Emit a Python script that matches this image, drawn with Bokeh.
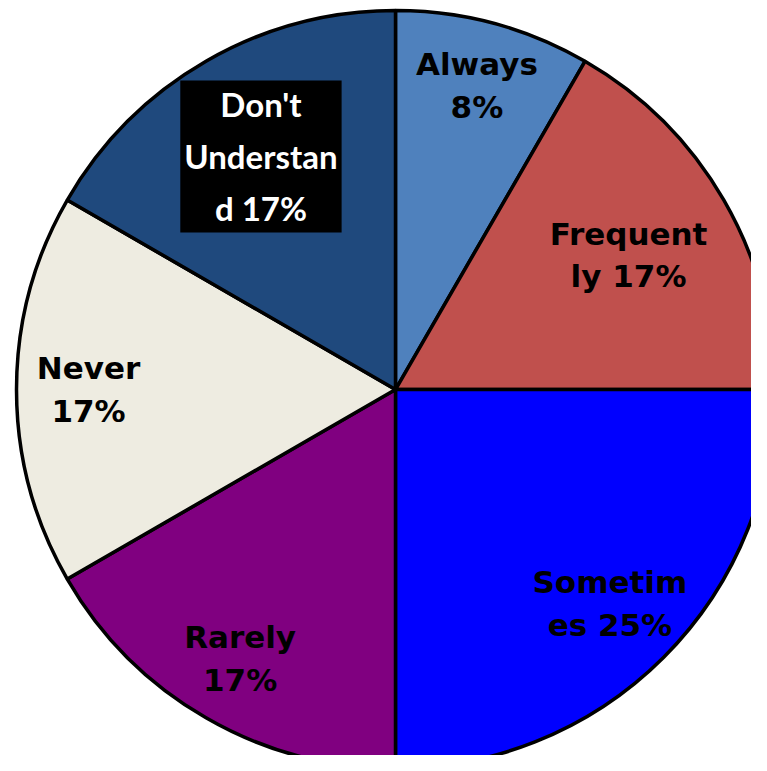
import numpy as np
from bokeh.plotting import figure
from bokeh.models import ColumnDataSource, Range1d
from bokeh.core.properties import value
from bokeh.embed import file_html
from bokeh.resources import INLINE

# ---- data ----
categories = ["Always", "Frequently", "Sometimes", "Rarely", "Never", "Don't Understand"]
counts = [1, 2, 3, 2, 2, 2]
label_text = ["Always\n8%", "Frequent\nly 17%", "Sometim\nes 25%", "Rarely\n17%", "Never\n17%",
              "Don't\nUnderstan\nd 17%"]
colors = ["#4F81BD", "#C0504D", "#0000FF", "#800080", "#EEECE1", "#1F497D"]

# ---- layout (screen-like coordinates, y flipped) ----
W, H = 751, 755
cx, cy, R = 395, -389, 379
label_r = [0.83, 0.71, 0.80, 0.82, 0.81, 0.71]

vals = np.array(counts, dtype=float)
frac = vals / vals.sum()
cum = np.concatenate([[0], np.cumsum(frac)])
end_a = np.pi / 2 - cum[:-1] * 2 * np.pi
start_a = np.pi / 2 - cum[1:] * 2 * np.pi
mid_a = (start_a + end_a) / 2

src = ColumnDataSource(dict(cat=categories, start=start_a, end=end_a, color=colors))

p = figure(width=W, height=H, output_backend="svg", toolbar_location=None,
           x_range=Range1d(0, W), y_range=Range1d(-H, 0), min_border=0)
p.axis.visible = False
p.grid.visible = False
p.outline_line_color = None
p.background_fill_color = "white"

p.wedge(x=cx, y=cy, radius=R, radius_units="data", start_angle="start", end_angle="end",
        fill_color="color", line_color="black", line_width=3.5, source=src)

lx = cx + np.array(label_r) * R * np.cos(mid_a)
ly = cy + np.array(label_r) * R * np.sin(mid_a)

normal = ColumnDataSource(dict(x=lx[:5], y=ly[:5], t=label_text[:5]))
p.text(x="x", y="y", text="t", source=normal, text_font=value("DejaVu Sans"),
       text_font_style="bold", text_font_size="31px", text_color="black",
       text_align="center", text_baseline="middle", text_line_height=1.19)

du = ColumnDataSource(dict(x=lx[5:], y=ly[5:], t=label_text[5:]))
p.text(x="x", y="y", text="t", source=du, text_font=value("Lato"),
       text_font_style="bold", text_font_size="33px", text_color="white",
       text_align="center", text_baseline="middle", text_line_height=1.3,
       background_fill_color="black", padding=4)

open("out.html", "w").write(file_html(p, INLINE))
